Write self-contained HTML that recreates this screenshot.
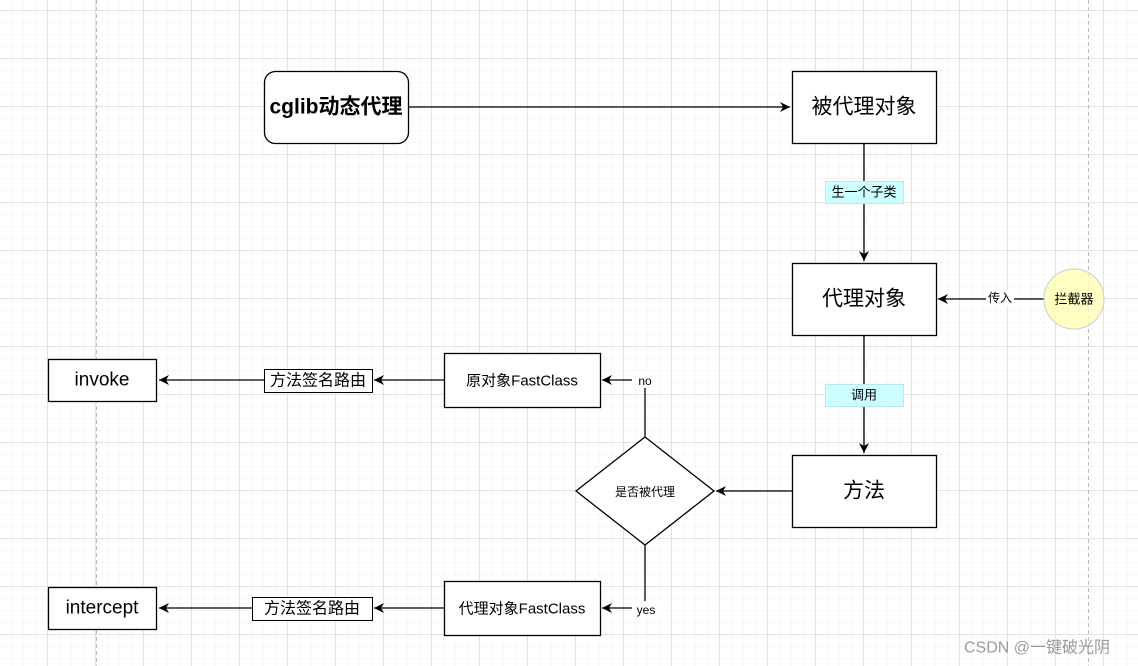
<!DOCTYPE html>
<html><head><meta charset="utf-8">
<style>
html,body{margin:0;padding:0;background:#fff;}
svg{display:block;}
text{font-family:"Liberation Sans","Noto Sans CJK SC",sans-serif;fill:#000;}
</style></head>
<body>
<svg width="1138" height="666" viewBox="0 0 1138 666" xmlns="http://www.w3.org/2000/svg">
<defs>
<pattern id="minor" width="12" height="12" patternUnits="userSpaceOnUse" x="-1" y="10">
<path d="M0 0H12M0 0V12" stroke="#f2f2f2" stroke-width="1" fill="none"/>
</pattern>
<pattern id="major" width="48" height="48" patternUnits="userSpaceOnUse" x="-1" y="10">
<path d="M0 0.5H48M0.5 0V48" stroke="#e2e2e2" stroke-width="1" fill="none"/>
</pattern>
<marker id="ar" markerWidth="12" markerHeight="12" refX="10" refY="6" orient="auto" markerUnits="userSpaceOnUse">
<path d="M0 1 L10 6 L0 11 L3 6 Z" fill="#000"/>
</marker>
</defs>
<rect width="1138" height="666" fill="url(#minor)"/>
<rect width="1138" height="666" fill="url(#major)"/>
<line x1="96.5" y1="0" x2="96.5" y2="666" stroke="#bbb" stroke-dasharray="4,3"/>
<line x1="1088.5" y1="0" x2="1088.5" y2="666" stroke="#bbb" stroke-dasharray="4,3"/>

<g stroke="#000" stroke-width="1.3" fill="none">
<line x1="408" y1="107" x2="790" y2="107" marker-end="url(#ar)"/>
<line x1="864" y1="143" x2="864" y2="261" marker-end="url(#ar)"/>
<line x1="1044" y1="299" x2="938" y2="299" marker-end="url(#ar)"/>
<line x1="864" y1="335" x2="864" y2="453" marker-end="url(#ar)"/>
<line x1="792" y1="491" x2="716" y2="491" marker-end="url(#ar)"/>
<polyline points="645,437 645,380 602,380" marker-end="url(#ar)"/>
<polyline points="645,545 645,608 602,608" marker-end="url(#ar)"/>
<line x1="444" y1="380" x2="374" y2="380" marker-end="url(#ar)"/>
<line x1="264" y1="380" x2="159" y2="380" marker-end="url(#ar)"/>
<line x1="444" y1="608" x2="374" y2="608" marker-end="url(#ar)"/>
<line x1="252" y1="608" x2="159" y2="608" marker-end="url(#ar)"/>
</g>

<g stroke="#000" stroke-width="1.3" fill="#fff">
<rect x="264.5" y="71.5" width="144" height="72" rx="11"/>
<rect x="792.5" y="71.5" width="144" height="72"/>
<rect x="792.5" y="263.5" width="144" height="72"/>
<rect x="792.5" y="455.5" width="144" height="72"/>
<polygon points="645,437 714,491 645,545 576,491"/>
<rect x="444.5" y="353.5" width="156" height="54"/>
<rect x="444.5" y="581.5" width="156" height="54"/>
<rect x="48.5" y="359.5" width="108" height="42"/>
<rect x="48.5" y="587.5" width="108" height="42"/>
<rect x="264.5" y="369.5" width="108" height="23" stroke-width="1"/>
<rect x="252.5" y="597.5" width="120" height="23" stroke-width="1"/>
</g>
<circle cx="1074" cy="299" r="30" fill="#ffffb0" fill-opacity="0.75" stroke="#ccc" stroke-width="1"/>
<rect x="825.5" y="181.5" width="78" height="22" fill="#ccffff" stroke="#bfe6e6"/>
<rect x="825.5" y="384.5" width="78" height="22" fill="#ccffff" stroke="#bfe6e6"/>
<rect x="986" y="290" width="28" height="16" fill="#fff"/>
<rect x="632" y="373" width="26" height="15" fill="#fff"/>
<rect x="632" y="601" width="28" height="15" fill="#fff"/>

<g text-anchor="middle" dominant-baseline="central">
<text x="336" y="107" font-size="21" font-weight="bold">cglib动态代理</text>
<text x="864" y="107" font-size="21">被代理对象</text>
<text x="864" y="192" font-size="13">生一个子类</text>
<text x="864" y="299" font-size="21">代理对象</text>
<text x="1000" y="298" font-size="12">传入</text>
<text x="1074" y="299" font-size="13">拦截器</text>
<text x="864" y="395" font-size="13">调用</text>
<text x="864" y="491" font-size="21">方法</text>
<text x="645" y="492" font-size="12">是否被代理</text>
<text x="645" y="381" font-size="12">no</text>
<text x="646" y="610" font-size="12">yes</text>
<text x="522" y="381" font-size="15">原对象FastClass</text>
<text x="522" y="609" font-size="15">代理对象FastClass</text>
<text x="318" y="381" font-size="16">方法签名路由</text>
<text x="312" y="609" font-size="16">方法签名路由</text>
<text x="102" y="380" font-size="19">invoke</text>
<text x="102" y="608" font-size="19">intercept</text>
<text x="1037" y="648" font-size="16" fill="#999" style="fill:#9a9a9a">CSDN @一键破光阴</text>
</g>
</svg>
</body></html>
